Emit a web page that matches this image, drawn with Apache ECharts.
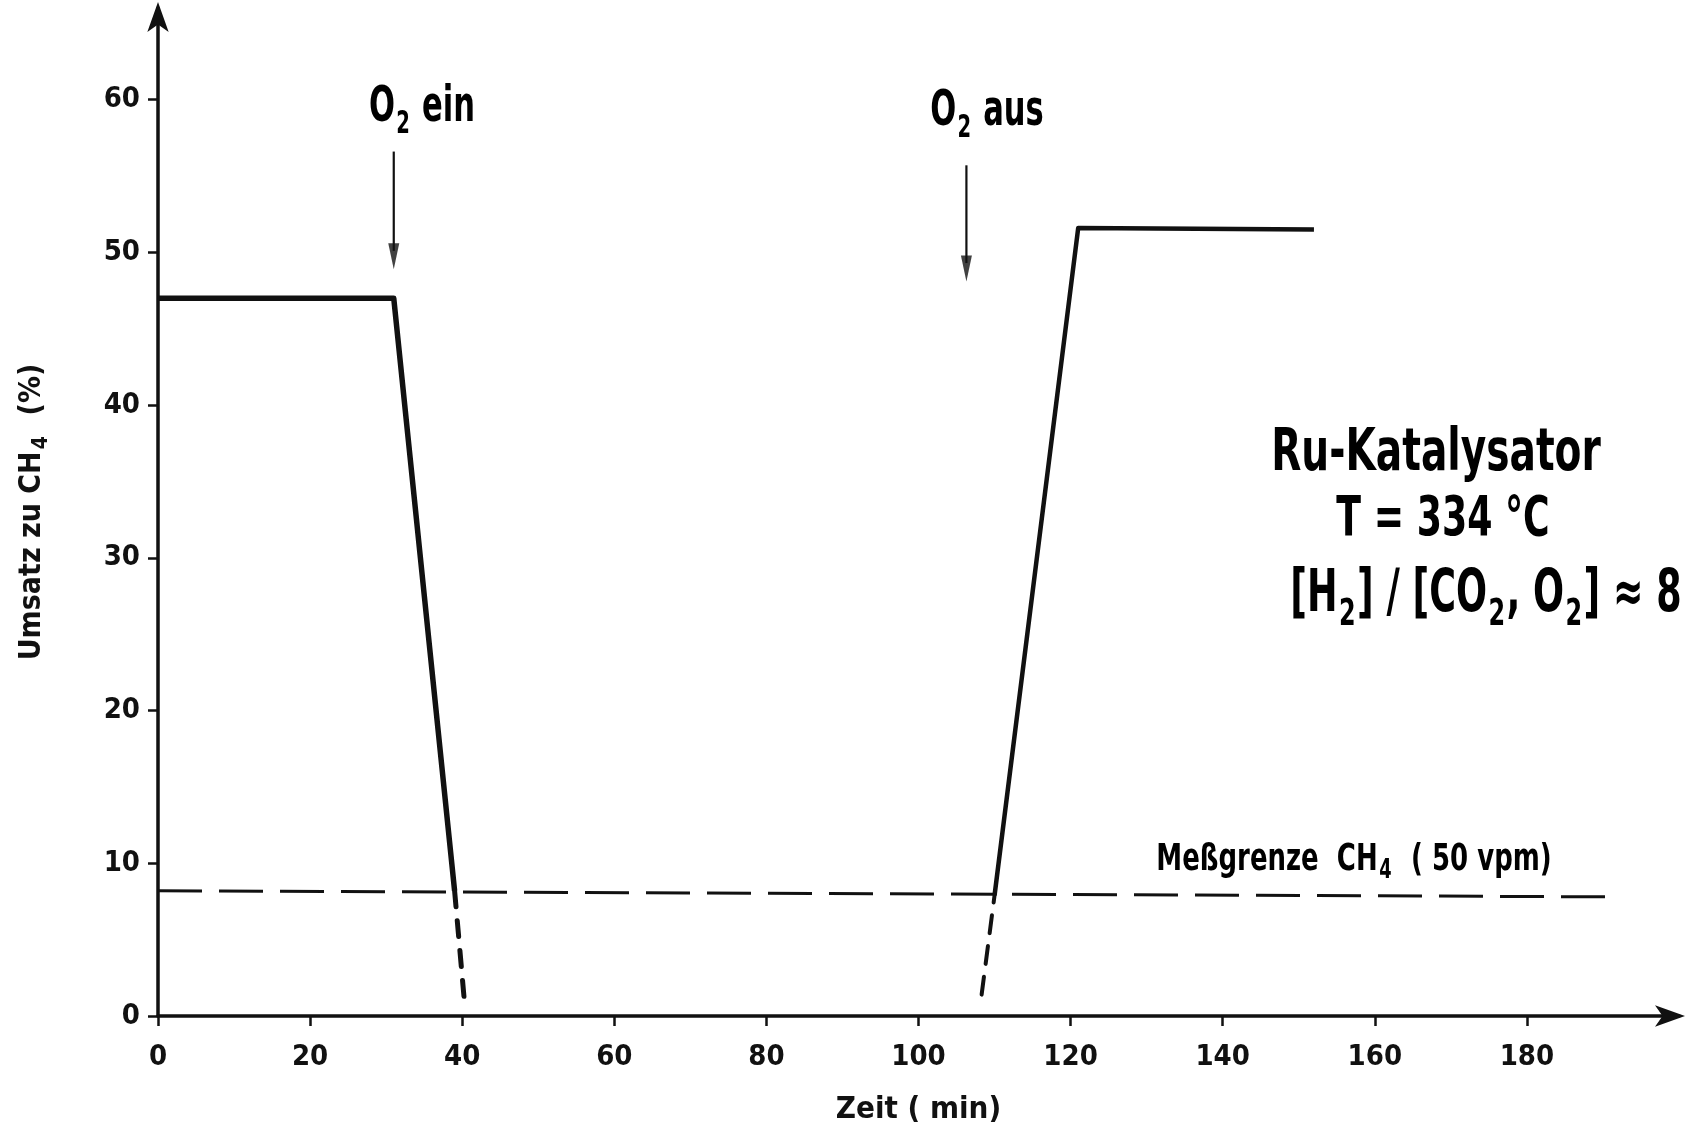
<!DOCTYPE html>
<html>
<head>
<meta charset="utf-8">
<script src="https://cdn.jsdelivr.net/npm/echarts@6/dist/echarts.min.js"></script>
<style>
  html, body { margin: 0; padding: 0; background: #fff; }
  #chart { width: 1699px; height: 1126px; }
</style>
</head>
<body>
<div id="chart"></div>
<script>
// Tick values of both axes
const xTickValues = [0, 20, 40, 60, 80, 100, 120, 140, 160, 180];
const yTickValues = [0, 10, 20, 30, 40, 50, 60];

// Conversion to CH4 (%) over time (min)
const conversionBefore = [[0, 47], [31, 47], [39, 8.2]];
const conversionAfter = [[110, 7.9], [121, 51.6], [152, 51.5]];
// Extrapolated parts below the detection limit
const dropBelowLimit = [[39, 8.2], [40.3, 0.9]];
const riseBelowLimit = [[108.3, 1.4], [110, 7.9]];
// Detection limit of CH4 (50 vpm)
const detectionLimit = [[0, 8.2], [192, 7.8]];

// O2 switching arrows: time, top of shaft, arrow tip
const arrowTimes = [31, 106.3];
const arrowTops = [56.6, 55.7];
const arrowTips = [48.9, 48.1];

const FONT = "'DejaVu Sans Condensed','DejaVu Sans',sans-serif";
const INK = '#111';

const chart = echarts.init(document.getElementById('chart'));

const arrowShafts = arrowTimes.map((t, i) => ({
  type: 'line',
  data: [[t, arrowTops[i]], [t, arrowTips[i] + 1.2]],
  symbol: 'none',
  lineStyle: { color: INK, width: 2.2 },
  silent: true,
  z: 3
}));

const arrowHeads = {
  type: 'scatter',
  data: arrowTimes.map((t, i) => [t, arrowTips[i]]),
  symbol: 'path://M0,0 L10,0 L5,26 Z',
  symbolSize: [11, 26],
  symbolOffset: [0, -13],
  itemStyle: { color: INK },
  silent: true,
  z: 4
};

// Rich text styles: main text and a lowered subscript
function subText(sizeMain, sizeSub, shift) {
  return {
    m: { fontFamily: FONT, fontSize: sizeMain, fontWeight: 'bold', color: INK, lineHeight: sizeMain * 1.3 },
    s: { fontFamily: FONT, fontSize: sizeSub, fontWeight: 'bold', color: INK, verticalAlign: 'bottom', lineHeight: sizeSub + shift, padding: [0, 2, 0, 2] }
  };
}

// Condensed annotation text, centred on (x, y)
function note(x, y, text, sizeMain, sizeSub, shift, squeeze) {
  return {
    type: 'text', x: x, y: y, scaleX: squeeze, scaleY: 1,
    style: { text: text, rich: subText(sizeMain, sizeSub, shift), align: 'center', verticalAlign: 'middle' }
  };
}

const option = {
  backgroundColor: '#fff',
  animation: false,
  grid: { left: 158, right: 20, top: 8, bottom: 110, containLabel: false, outerBoundsMode: 'none' },
  xAxis: {
    type: 'value',
    min: 0,
    max: 200,
    interval: 20,
    name: '{m|Zeit ( min)}',
    nameLocation: 'middle',
    nameGap: 74,
    nameTextStyle: { rich: subText(31, 22, 0) },
    axisLine: { lineStyle: { color: INK, width: 3.5 }, symbol: ['none', 'arrow'], symbolSize: [16, 30], symbolOffset: [0, 6] },
    axisTick: { show: true, length: 10, inside: false, lineStyle: { color: INK, width: 2.5 }, customValues: xTickValues },
    axisLabel: { customValues: xTickValues, fontFamily: FONT, fontSize: 29, fontWeight: 'bold', color: INK, margin: 27 },
    splitLine: { show: false }
  },
  yAxis: {
    type: 'value',
    min: 0,
    max: 66,
    interval: 10,
    name: '{m|Umsatz zu CH}{s|4}{m|  (%)}',
    nameLocation: 'middle',
    nameRotate: 90,
    nameGap: 106,
    nameTextStyle: { rich: subText(30, 21, 15) },
    axisLine: { lineStyle: { color: INK, width: 3.5 }, symbol: ['none', 'arrow'], symbolSize: [16, 30], symbolOffset: [0, 6] },
    axisTick: { show: true, length: 10, inside: false, lineStyle: { color: INK, width: 2.5 }, customValues: yTickValues },
    axisLabel: { customValues: yTickValues, fontFamily: FONT, fontSize: 29, fontWeight: 'bold', color: INK, margin: 18 },
    splitLine: { show: false }
  },
  series: [
    {
      type: 'line',
      data: detectionLimit,
      symbol: 'none',
      lineStyle: { color: INK, width: 3, type: [44, 17] },
      silent: true,
      z: 2
    },
    {
      type: 'line',
      data: conversionBefore,
      symbol: 'none',
      lineStyle: { color: INK, width: 5.5, join: 'round' },
      silent: true,
      z: 5
    },
    {
      type: 'line',
      data: conversionAfter,
      symbol: 'none',
      lineStyle: { color: INK, width: 4.5, join: 'round' },
      silent: true,
      z: 5
    },
    {
      type: 'line',
      data: dropBelowLimit,
      symbol: 'none',
      lineStyle: { color: INK, width: 5, type: [16, 14], cap: 'round' },
      silent: true,
      z: 5
    },
    {
      type: 'line',
      data: riseBelowLimit,
      symbol: 'none',
      lineStyle: { color: INK, width: 4, type: [18, 13], cap: 'round' },
      silent: true,
      z: 5
    },
    ...arrowShafts,
    arrowHeads
  ],
  graphic: [
    note(422, 108, '{m|O}{s|2}{m| ein}', 50, 32, 22, 0.68),
    note(987, 112, '{m|O}{s|2}{m| aus}', 50, 32, 22, 0.68),
    note(1436, 455, '{m|Ru-Katalysator}', 58, 38, 0, 0.75),
    note(1443, 520, '{m|T = 334 °C}', 56, 36, 0, 0.72),
    note(1486, 596, '{m|[H}{s|2}{m|] / [CO}{s|2}{m|, O}{s|2}{m|] ≈ 8}', 58, 38, 26, 0.7),
    note(1354, 860, '{m|Meßgrenze  CH}{s|4}{m|  ( 50 vpm)}', 38, 26, 16, 0.76)
  ]
};

chart.setOption(option);
</script>
</body>
</html>
